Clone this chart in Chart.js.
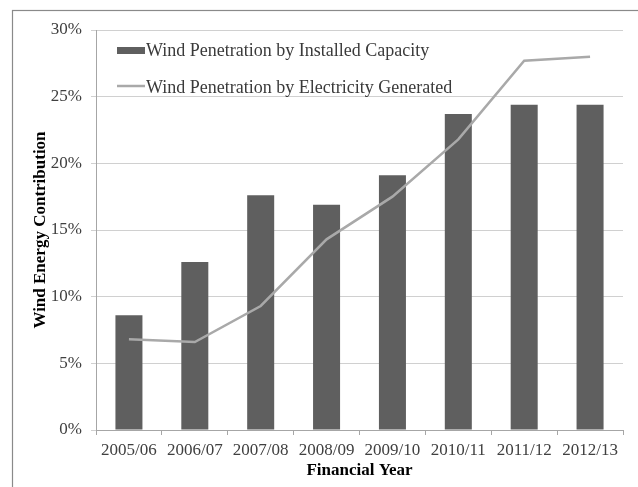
<!DOCTYPE html>
<html>
<head>
<meta charset="utf-8">
<script src="https://cdn.jsdelivr.net/npm/chart.js@4"></script>
<style>
  html, body { margin: 0; padding: 0; background: #ffffff; }
  #wrap { width: 638px; height: 487px; position: relative; }
</style>
</head>
<body>
<div id="wrap"><canvas id="c" width="638" height="487"></canvas></div>
<script>
// Financial years on the category axis
const years = ['2005/06', '2006/07', '2007/08', '2008/09', '2009/10', '2010/11', '2011/12', '2012/13'];
// Share of installed capacity (%)
const installedCapacity = [8.6, 12.6, 17.6, 16.9, 19.1, 23.7, 24.4, 24.4];
// Share of electricity generated (%)
const electricityGenerated = [6.8, 6.6, 9.3, 14.3, 17.5, 21.8, 27.7, 28.0];
// Value-axis ticks (%)
const yTicks = [0, 5, 10, 15, 20, 25, 30];

const serif = "'Liberation Serif', 'Times New Roman', serif";

// Outer frame and white background
const framePlugin = {
  id: 'frame',
  beforeDraw(chart) {
    const ctx = chart.ctx;
    ctx.save();
    ctx.fillStyle = '#ffffff';
    ctx.fillRect(0, 0, chart.width, chart.height);
    ctx.strokeStyle = '#8a8a8a';
    ctx.lineWidth = 1.2;
    ctx.strokeRect(12.5, 10.5, chart.width + 50, chart.height + 50);
    ctx.restore();
  }
};

// Legend drawn inside the plot, top-left
const insideLegend = {
  id: 'insideLegend',
  afterDraw(chart) {
    const ctx = chart.ctx;
    const area = chart.chartArea;
    const x0 = area.left + 21;
    const rows = [area.top + 25.5, area.top + 63];
    ctx.save();
    ctx.font = '18px ' + serif;
    ctx.textBaseline = 'alphabetic';
    ctx.textAlign = 'left';
    chart.data.datasets.forEach((ds, i) => {
      const base = rows[i];
      if (ds.type === 'bar') {
        ctx.fillStyle = ds.backgroundColor;
        ctx.fillRect(x0, base - 8.5, 28, 7);
      } else {
        ctx.strokeStyle = ds.borderColor;
        ctx.lineWidth = ds.borderWidth;
        ctx.beginPath();
        ctx.moveTo(x0, base - 7);
        ctx.lineTo(x0 + 28, base - 7);
        ctx.stroke();
      }
      ctx.fillStyle = '#3a3a3a';
      ctx.fillText(ds.label, x0 + 29, base);
    });
    ctx.restore();
  }
};

new Chart(document.getElementById('c'), {
  data: {
    labels: years,
    datasets: [
      {
        type: 'bar',
        label: 'Wind Penetration by Installed Capacity',
        data: installedCapacity,
        backgroundColor: '#5f5f5f',
        borderWidth: 0,
        barPercentage: 0.41,
        categoryPercentage: 1.0,
        order: 2
      },
      {
        type: 'line',
        label: 'Wind Penetration by Electricity Generated',
        data: electricityGenerated,
        borderColor: '#a9a9a9',
        borderWidth: 2.5,
        pointRadius: 0,
        tension: 0,
        fill: false,
        order: 1
      }
    ]
  },
  options: {
    responsive: false,
    animation: false,
    devicePixelRatio: 1,
    layout: { padding: { top: 30, right: 15, left: 0, bottom: 0 } },
    plugins: {
      legend: { display: false },
      tooltip: { enabled: false }
    },
    scales: {
      x: {
        offset: true,
        grid: {
          display: true,
          drawOnChartArea: false,
          drawTicks: true,
          tickLength: 5,
          offset: true,
          color: '#a6a6a6'
        },
        border: { display: true, color: '#a6a6a6', width: 1 },
        ticks: {
          color: '#404040',
          font: { family: serif, size: 17 },
          padding: 5,
          maxRotation: 0,
          autoSkip: false
        },
        title: {
          display: true,
          text: 'Financial Year',
          color: '#000000',
          font: { family: serif, size: 17, weight: 'bold' },
          padding: { top: 0, bottom: 6 }
        },
        afterFit(scale) { scale.height = 57; }
      },
      y: {
        min: 0,
        max: 30,
        afterBuildTicks(scale) { scale.ticks = yTicks.map(v => ({ value: v })); },
        grid: {
          color: '#d0d0d0',
          drawTicks: true,
          tickLength: 5
        },
        border: { display: true, color: '#a6a6a6', width: 1 },
        ticks: {
          color: '#404040',
          font: { family: serif, size: 17 },
          padding: 9,
          callback: (v) => v + '%'
        },
        title: {
          display: true,
          text: 'Wind Energy Contribution',
          color: '#000000',
          font: { family: serif, size: 17, weight: 'bold' },
          padding: { top: 30, bottom: 0 }
        },
        afterFit(scale) { scale.width = 96; }
      }
    }
  },
  plugins: [framePlugin, insideLegend]
});
</script>
</body>
</html>
